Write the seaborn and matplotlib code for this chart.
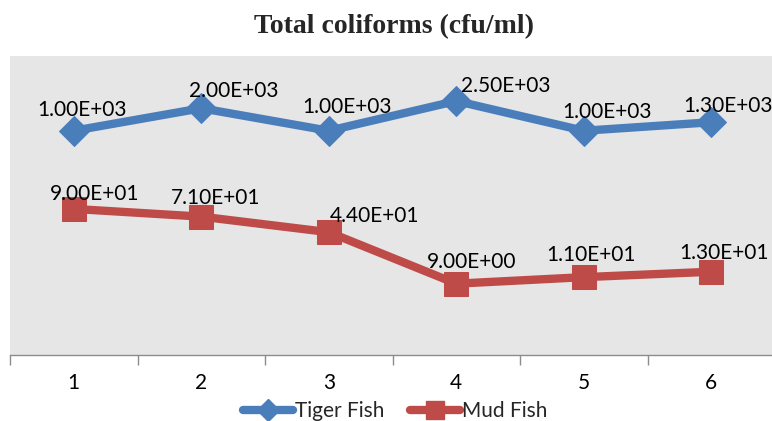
import matplotlib
matplotlib.use("Agg")
import matplotlib.pyplot as plt
import seaborn as sns
import pandas as pd
import numpy as np
from matplotlib.lines import Line2D

categories = [1, 2, 3, 4, 5, 6]
tiger_fish = [1000, 2000, 1000, 2500, 1000, 1300]
mud_fish = [90, 71, 44, 9, 11, 13]
tiger_labels = ["1.00E+03", "2.00E+03", "1.00E+03", "2.50E+03", "1.00E+03", "1.30E+03"]
mud_labels = ["9.00E+01", "7.10E+01", "4.40E+01", "9.00E+00", "1.10E+01", "1.30E+01"]
series_names = ["Tiger Fish", "Mud Fish"]
title = "Total coliforms (cfu/ml)"

# label offsets (pixels) as placed in the original
tiger_off = [(8, 21), (32, 17), (18, 24), (49, 15), (23, 19), (17, 16)]
mud_off = [(21, 15), (14, 19), (46, 16), (15, 22), (7, 22), (13, 19)]

sns.set_theme(style="white")
plt.rcParams['font.family'] = ['Lato', 'DejaVu Sans']

df = pd.DataFrame({
    "x": categories * 2,
    "y": tiger_fish + mud_fish,
    "series": [series_names[0]] * 6 + [series_names[1]] * 6,
})

blue = "#4A7EBB"
red = "#BE4B48"
palette = {series_names[0]: blue, series_names[1]: red}
markers = {series_names[0]: "D", series_names[1]: "s"}

fig = plt.figure(figsize=(7.72, 4.21), dpi=100)
ax = fig.add_axes([10 / 772, (421 - 355) / 421, 765 / 772, 299 / 421])
ax.set_facecolor("#E6E6E6")

for name, ms in [(series_names[0], 15), (series_names[1], 17)]:
    sub = df[df.series == name]
    sns.lineplot(data=sub, x="x", y="y", color=palette[name], marker=markers[name],
                 markersize=ms, markeredgecolor=palette[name], linewidth=6,
                 ax=ax, legend=False)

ax.set_yscale("log")
ax.set_ylim(1, 10000)
ax.set_xlim(0.5, 6.5)
ax.set_yticks([])
ax.set_yticks([], minor=True)
ax.set_xticks(categories)
ax.set_xticklabels([str(c) for c in categories], fontsize=15)
ax.set_xticks(np.arange(0.5, 7.0, 1.0), minor=True)
ax.tick_params(axis="x", which="major", length=0, pad=13, colors="black")
ax.tick_params(axis="x", which="minor", length=7, width=1, color="#8C8C8C", direction="out", bottom=True)
for s in ["top", "right", "left"]:
    ax.spines[s].set_visible(False)
ax.spines["bottom"].set_color("#8C8C8C")
ax.spines["bottom"].set_linewidth(1)
ax.set_xlabel("")
ax.set_ylabel("")

for x, y, lab, off in zip(categories, tiger_fish, tiger_labels, tiger_off):
    ax.annotate(lab, (x, y), xytext=off, textcoords="offset pixels",
                ha="center", va="center", fontsize=15, color="black")
for x, y, lab, off in zip(categories, mud_fish, mud_labels, mud_off):
    ax.annotate(lab, (x, y), xytext=off, textcoords="offset pixels",
                ha="center", va="center", fontsize=15, color="black")

fig.text(394 / 772, 1 - 27 / 421, title, ha="center", va="center",
         fontsize=20, fontweight="bold", family=["Liberation Serif", "DejaVu Serif"])

handles = [
    Line2D([], [], color=blue, marker="D", markersize=11, linewidth=6,
           markeredgecolor=blue, solid_capstyle="round"),
    Line2D([], [], color=red, marker="s", markersize=13, linewidth=6,
           markeredgecolor=red, solid_capstyle="round"),
]
fig.legend(handles, series_names, loc="center", bbox_to_anchor=(395 / 772, 1 - 411 / 421),
           ncol=2, frameon=False, fontsize=15, handlelength=2.4, handletextpad=0.1,
           columnspacing=1.2)

fig.savefig("out.png", dpi=100)
